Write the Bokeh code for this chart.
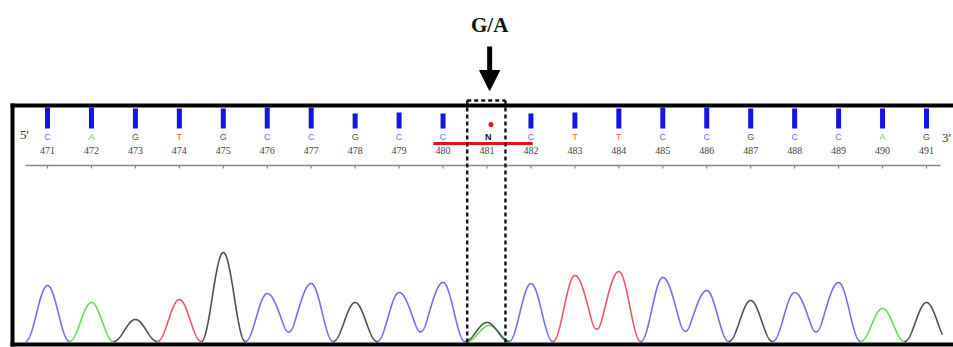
import numpy as np
from bokeh.plotting import figure
from bokeh.models import Range1d, Arrow, NormalHead
from bokeh.core.properties import value
from bokeh.embed import file_html
from bokeh.resources import INLINE

# ---------------- data ----------------
positions = list(range(471, 492))
base_calls = ["C", "A", "G", "T", "G", "C", "C", "G", "C", "C", "N",
              "C", "T", "T", "C", "C", "G", "C", "C", "A", "G"]
# dominant trace channel under each position
peak_channel = ["C", "A", "G", "T", "G", "C", "C", "G", "C", "C", "G",
                "C", "T", "T", "C", "C", "G", "C", "C", "A", "G"]
# trace peak heights (signal, arbitrary units)
peak_height = [56, 39, 22, 42, 89, 48, 58, 39, 49, 59, 19,
               58, 66, 70, 64, 51, 41, 49, 59, 33, 39]
# quality bar heights (arbitrary units); heterozygous site has no bar
quality = [21, 21, 20, 20, 20, 21, 21, 15, 16, 15, None,
           15, 16, 20, 21, 21, 20, 20, 20, 20, 20]
# secondary peak at the heterozygous site
het_position = 481
het_channel = "A"
het_height = 16
snp_label = "G/A"
end_labels = ["5'", "3'"]

# ---------------- styling / layout ----------------
W, H = 953, 347
PX_PER_BASE = 43.95
X0 = 471 - 47 / PX_PER_BASE
BASELINE_PX = 341


def X(px):
    return X0 + px / PX_PER_BASE


def Y(py):
    return BASELINE_PX - py


trace_colors = {"C": "#7070ee", "A": "#66dd55", "G": "#505050", "T": "#ee5566"}
letter_colors = {"C": "#6b6bf5", "A": "#4ccc4c", "G": "#555555", "T": "#f0603c", "N": "#111111"}

p = figure(width=W, height=H, x_range=Range1d(X0, X0 + W / PX_PER_BASE),
           y_range=Range1d(BASELINE_PX - H, BASELINE_PX),
           x_axis_type=None, y_axis_type=None, toolbar_location=None,
           output_backend="svg", min_border=0)
p.grid.visible = False
p.outline_line_color = None
p.background_fill_color = "white"
p.border_fill_color = "white"

# ---------------- trace ----------------
xs = np.arange(X(25), X(942), 0.004)
W_JOIN = 0.62   # half-width toward a same-channel neighbour
W_EDGE = 0.5    # half-width toward a different-channel neighbour


def hump(x, center, h, wl, wr):
    d = x - center
    w = np.where(d < 0, wl, wr)
    u = d / w
    return np.where(np.abs(u) < 1, h * np.cos(np.pi * u / 2) ** 2, 0.0)


n = len(positions)
for ch, col in trace_colors.items():
    sig = np.zeros_like(xs)
    for i, (pos, c, h) in enumerate(zip(positions, peak_channel, peak_height)):
        if c != ch:
            continue
        same_l = i > 0 and peak_channel[i - 1] == ch and positions[i - 1] != het_position
        same_r = i < n - 1 and peak_channel[i + 1] == ch and positions[i + 1] != het_position
        if pos == het_position:
            same_l = same_r = False
        sig += hump(xs, pos, h, W_JOIN if same_l else W_EDGE, W_JOIN if same_r else W_EDGE)
    if ch == het_channel:
        sig += hump(xs, het_position + 0.05, het_height, W_EDGE, W_EDGE)
    mask = sig > 0
    m2 = mask.copy()
    m2[1:] |= mask[:-1]
    m2[:-1] |= mask[1:]
    ys = np.where(m2, sig, np.nan)
    p.line(xs, ys, line_color=col, line_width=1.6)

# ---------------- frame ----------------
p.segment(x0=[X(12), X(10), X(10)], y0=[Y(103), Y(105), Y(344)],
          x1=[X(12), X(W), X(W)], y1=[Y(346), Y(105), Y(344)],
          line_color="black", line_width=4)

# ---------------- quality bars ----------------
bx = [pos for pos, q in zip(positions, quality) if q is not None]
btop = [Y(128) + q for q in quality if q is not None]
p.vbar(x=bx, bottom=Y(128), top=btop, width=5 / PX_PER_BASE,
       fill_color="#1414e6", line_color=None)
p.scatter(x=[het_position + 0.09], y=[Y(124)], size=5, marker="circle",
          fill_color="#ee1111", line_color=None)

# ---------------- base letters ----------------
lx = [pos + (0.03 if b == "N" else 0) for pos, b in zip(positions, base_calls)]
p.text(x=lx, y=[Y(136)] * n, text=base_calls,
       text_color=[letter_colors[b] for b in base_calls],
       text_font=value("Liberation Sans"), text_font_size="9px",
       text_font_style=["bold" if b == "N" else "normal" for b in base_calls],
       text_align="center", text_baseline="middle")

# ---------------- position numbers / ruler ----------------
p.text(x=positions, y=[Y(150)] * n, text=[str(v) for v in positions],
       text_color="#444444", text_font=value("Liberation Sans Narrow"),
       text_font_size="10px", text_align="center", text_baseline="middle")
p.segment(x0=[X(25)], y0=[Y(165)], x1=[X(940)], y1=[Y(165)],
          line_color="#888888", line_width=1.5)
p.segment(x0=positions, y0=[Y(165)] * n, x1=positions,
          y1=[Y(168)] * n, line_color="#888888", line_width=1.2)

p.text(x=[X(24), X(946)], y=[Y(134), Y(137)], text=end_labels,
       text_color="#333333", text_font=value("Liberation Serif"),
       text_font_size="13px", text_align="center", text_baseline="middle")

# ---------------- SNP highlight ----------------
p.segment(x0=[het_position - 1.22], y0=[Y(143)], x1=[het_position + 1.04],
          y1=[Y(143)], line_color="#e8101a", line_width=3)
p.segment(x0=[het_position - 0.45, het_position + 0.42, het_position - 0.45],
          y0=[Y(100), Y(100), Y(100)],
          x1=[het_position - 0.45, het_position + 0.42, het_position + 0.42],
          y1=[Y(342), Y(342), Y(100)],
          line_color="#111111", line_width=2.4, line_dash="4 3")

p.text(x=[het_position + 0.06], y=[Y(24)], text=[snp_label],
       text_color="#111111", text_font=value("Liberation Serif"),
       text_font_style="bold", text_font_size="21px",
       text_align="center", text_baseline="middle")
p.add_layout(Arrow(end=NormalHead(size=20, fill_color="black", line_color="black"),
                   x_start=het_position + 0.06, y_start=Y(46),
                   x_end=het_position + 0.06, y_end=Y(90),
                   line_color="black", line_width=5))

open("out.html", "w").write(file_html(p, INLINE))
